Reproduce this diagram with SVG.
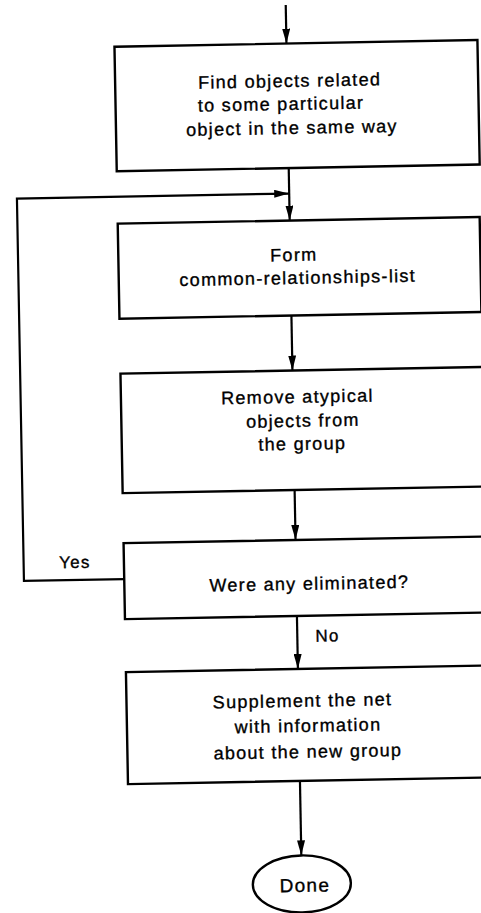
<svg xmlns="http://www.w3.org/2000/svg" width="481" height="913" viewBox="0 0 481 913">
<defs>
<marker id="ah" markerUnits="userSpaceOnUse" markerWidth="15" markerHeight="8" refX="15" refY="4" orient="auto">
<path d="M0,0 L15,4 L0,8 Z" fill="#000"/>
</marker>
<style>
.box{fill:#fff;stroke:#000;stroke-width:2.4}
.ln{fill:none;stroke:#000;stroke-width:2.2}
.t{font-family:"Liberation Sans",Arial,sans-serif;font-size:18px;letter-spacing:1.3px;fill:#000;stroke:#000;stroke-width:0.35;text-anchor:middle}
.lbl{font-family:"Liberation Sans",Arial,sans-serif;font-size:17px;letter-spacing:1.2px;fill:#000;stroke:#000;stroke-width:0.35}
</style>
</defs>
<rect width="481" height="913" fill="#fff"/>
<g transform="rotate(-1.05 294 456)">
<g id="connectors">
<line class="ln" x1="294" y1="5" x2="294" y2="43.5" marker-end="url(#ah)"/>
<line class="ln" x1="294" y1="168" x2="294" y2="220.5" marker-end="url(#ah)"/>
<line class="ln" x1="294" y1="315.5" x2="294" y2="370.5" marker-end="url(#ah)"/>
<line class="ln" x1="294" y1="490" x2="294" y2="540" marker-end="url(#ah)"/>
<line class="ln" x1="294" y1="616" x2="294" y2="669" marker-end="url(#ah)"/>
<line class="ln" x1="294" y1="781" x2="294" y2="855.5" marker-end="url(#ah)"/>
<polyline class="ln" points="122,576 21.7,576 21.7,193.5 294,193.5" marker-end="url(#ah)"/>
<text class="lbl" x="73" y="564" text-anchor="middle">Yes</text>
<text class="lbl" x="312" y="642">No</text>
</g>
<g id="find">
<rect class="box" x="122" y="43.5" width="363" height="124.5"/>
<text class="t" x="296.5" y="87">Find objects related</text>
<text class="t" x="287.5" y="110">to some particular</text>
<text class="t" x="298" y="134">object in the same way</text>
</g>
<g id="form">
<rect class="box" x="122" y="220.5" width="362" height="95"/>
<text class="t" x="297.5" y="261">Form</text>
<text class="t" x="301" y="284">common-relationships-list</text>
</g>
<g id="remove">
<rect class="box" x="122" y="370.5" width="370" height="119.5"/>
<text class="t" x="298.5" y="403">Remove atypical</text>
<text class="t" x="303.5" y="427">objects from</text>
<text class="t" x="302.5" y="450">the group</text>
</g>
<g id="decision">
<rect class="box" x="122" y="540" width="370" height="76"/>
<text class="t" x="307" y="590">Were any eliminated?</text>
</g>
<g id="supplement">
<rect class="box" x="122" y="669" width="370" height="112"/>
<text class="t" x="298" y="707">Supplement the net</text>
<text class="t" x="303" y="732">with information</text>
<text class="t" x="302.5" y="758">about the new group</text>
</g>
<g id="done">
<ellipse class="box" cx="294" cy="884" rx="49" ry="28.5"/>
<text class="t" x="297" y="892" style="font-size:19px">Done</text>
</g>
</g>
</svg>
